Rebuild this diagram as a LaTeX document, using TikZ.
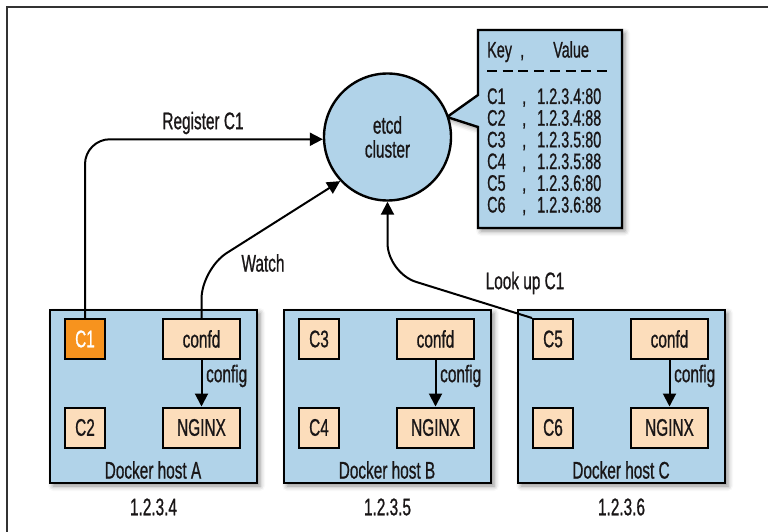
\documentclass[tikz,border=0pt]{standalone}
\usepackage{fontspec}
\setmainfont{Liberation Sans}[FakeStretch=0.64, FakeBold=0.8]
\usetikzlibrary{arrows.meta,shadows.blur}
\definecolor{lblue}{RGB}{177,211,233}
\definecolor{peach}{RGB}{252,221,187}
\definecolor{orng}{RGB}{247,147,30}
\definecolor{ink}{RGB}{25,22,23}
\begin{document}
\begin{tikzpicture}[x=1pt,y=-1pt,
  font=\fontsize{24}{24}\selectfont, text=ink,
  softshadow/.style={blur shadow={shadow xshift=3pt, shadow yshift=-3pt, shadow blur radius=5pt, shadow opacity=45}},
  host/.style={draw=black, line width=2.6pt, fill=lblue, minimum width=207pt, minimum height=173pt, inner sep=0pt, softshadow},
  cbox/.style={draw=black, line width=2pt, fill=peach, minimum width=40pt, minimum height=40pt, inner sep=0pt},
  wbox/.style={cbox, minimum width=77pt},
  conn/.style={draw=black, line width=2pt, -{Triangle[length=13pt,width=13pt]}},
  lbl/.style={inner sep=0pt},
  tbl/.style={inner sep=0pt, anchor=base west, font=\fontsize{22.5}{24}\selectfont}
]
\useasboundingbox (0,0) rectangle (768,532);
% frame
\draw[line width=1.5pt, draw=black!80] (7,532) -- (7,7) -- (768,7);

% key/value table callout
\coordinate (tip) at (447,117);
\draw[draw=black, line width=2.4pt, fill=lblue, softshadow, line join=miter]
  (478,30) -- (622,30) -- (622,228) -- (478,228) -- (478,127) -- (tip) -- (478,95) -- cycle;
\node[tbl] (khead) at (487,57.5) {Key};
\node[tbl] (chead) at (520,57.5) {,};
\node[tbl] (vhead) at (553,57.5) {Value};
\draw[line width=2.6pt, dash pattern=on 10pt off 5.7pt] (487,71) -- (607,71);
\foreach \k/\v [count=\i] in {C1/1.2.3.4:80, C2/1.2.3.4:88, C3/1.2.3.5:80, C4/1.2.3.5:88, C5/1.2.3.6:80, C6/1.2.3.6:88} {
  \node[tbl] (key\i) at (487,{104+21.7*(\i-1)}) {\k};
  \node[tbl] (com\i) at (522,{104+21.7*(\i-1)}) {,};
  \node[tbl] (val\i) at (537,{104+21.7*(\i-1)}) {\v};
}

% etcd cluster
\node[circle, draw=black, line width=2.4pt, fill=lblue, minimum size=127pt, inner sep=0pt, align=center] (etcd) at (387.5,137) {etcd\\cluster};

% hosts
\foreach \L/\n/\ip/\a/\b/\f/\t in {49/A/1.2.3.4/1/2/orng/white, 283/B/1.2.3.5/3/4/peach/ink, 517/C/1.2.3.6/5/6/peach/ink} {
  \node[host] (host\n) at (\L+104.5,396.5) {};
  \node[cbox, fill=\f, text=\t] (c\a) at (\L+36,339) {C\a};
  \node[cbox] (c\b) at (\L+36,427.5) {C\b};
  \node[wbox] (confd\n) at (\L+152.5,339) {confd};
  \node[wbox] (nginx\n) at (\L+152.5,427.5) {NGINX};
  \draw[conn] (confd\n) -- (nginx\n);
  \node[lbl, anchor=west] (cfg\n) at (\L+157,376) {config};
  \node[lbl] (hl\n) at (\L+104,470) {Docker host \n};
  \node[lbl] (ip\n) at (\L+104.5,507) {\ip};
}

% connectors
\coordinate (wk) at (0,269);
\coordinate (lk) at (0,273);
\draw[conn, rounded corners=25pt] (c1.north) |- (etcd.182);
\node[lbl] (reg) at (203,123) {Register C1};
\draw[conn, rounded corners=30pt] (confdA.north) -- (confdA.north |- wk) -- (etcd.223);
\node[lbl] (watch) at (263,263) {Watch};
\draw[conn, rounded corners=30pt] (c5.north west) -- (etcd.south |- lk) -- (etcd.south);
\node[lbl] (look) at (525,283) {Look up C1};
\end{tikzpicture}
\end{document}
